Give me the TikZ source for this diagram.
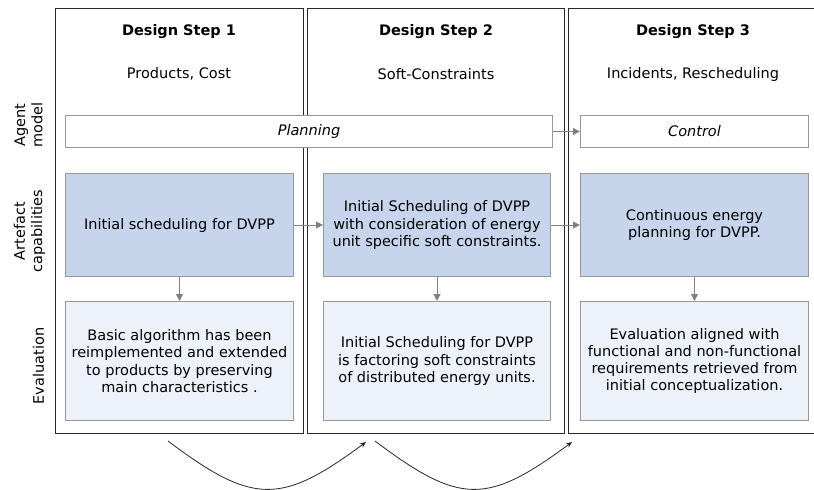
\documentclass[tikz,border=0pt]{standalone}
\usepackage{fontspec}
\setmainfont{DejaVu Sans}
\usetikzlibrary{arrows.meta}
\definecolor{capfill}{RGB}{198,212,236}
\definecolor{evalfill}{RGB}{237,242,250}
\definecolor{boxline}{RGB}{150,150,150}
\definecolor{arrowgray}{RGB}{128,128,128}
\definecolor{colline}{RGB}{40,40,40}
\begin{document}
\begin{tikzpicture}[x=1pt,y=1pt,
  every node/.style={font=\fontsize{14.5pt}{17.3pt}\selectfont},
  column/.style={draw=colline, line width=1.1pt, rectangle, inner sep=0pt, anchor=north west},
  agentbox/.style={draw=boxline, fill=white, line width=1pt, rectangle, inner sep=0pt, anchor=north west, font=\fontsize{14.5pt}{17.3pt}\selectfont\itshape},
  capbox/.style={draw=boxline, fill=capfill, line width=1pt, rectangle, inner sep=0pt, anchor=north west, align=center, minimum width=228pt, minimum height=103pt},
  evalbox/.style={draw=boxline, fill=evalfill, line width=1pt, rectangle, inner sep=0pt, anchor=north west, align=center, minimum width=228pt, minimum height=119pt},
  titletext/.style={font=\fontsize{14.5pt}{17.3pt}\selectfont\bfseries, inner sep=0pt},
  subtext/.style={inner sep=0pt},
  sidelabel/.style={rotate=90, align=center, inner sep=0pt},
  garrow/.style={draw=arrowgray, line width=1pt, -{Triangle[length=7pt,width=7pt]}},
  curvearrow/.style={draw=black!85, line width=0.8pt, -{Stealth[length=6pt,width=5pt]}}
]
\useasboundingbox (0,0) rectangle (814,-490);

% columns
\node[column, minimum width=248pt, minimum height=425pt] (col1) at (55,-8) {};
\node[column, minimum width=257pt, minimum height=425pt] (col2) at (307,-8) {};
\node[column, minimum width=252pt, minimum height=425pt] (col3) at (568,-8) {};

% titles
\node[titletext] (t1) at (179,-32) {Design Step 1};
\node[titletext] (t2) at (436,-32) {Design Step 2};
\node[titletext] (t3) at (693,-32) {Design Step 3};
\node[subtext] (s1) at (179,-74) {Products, Cost};
\node[subtext] (s2) at (436,-74) {Soft-Constraints};
\node[subtext] (s3) at (693,-74) {Incidents, Rescheduling};

% side labels
\node[sidelabel] (lagent) at (28.5,-125) {Agent\\model};
\node[sidelabel] (lart) at (29.5,-231) {Artefact\\capabilities};
\node[sidelabel] (leval) at (38.5,-366) {Evaluation};

% agent model row
\node[agentbox, minimum width=487pt, minimum height=32pt] (plan) at (65,-115) {Planning};
\node[agentbox, minimum width=228pt, minimum height=32pt] (ctrl) at (580,-115) {Control};

% artefact capabilities row
\node[capbox] (cap1) at (65,-173) {Initial scheduling for DVPP};
\node[capbox, minimum width=227pt] (cap2) at (323,-173) {Initial Scheduling of DVPP\\with consideration of energy\\unit specific soft constraints.};
\node[capbox] (cap3) at (580,-173) {Continuous energy\\planning for DVPP.};

% evaluation row
\node[evalbox] (eval1) at (65,-301) {Basic algorithm has been\\reimplemented and extended\\to products by preserving\\main characteristics .};
\node[evalbox, minimum width=227pt] (eval2) at (323,-301) {Initial Scheduling for DVPP\\is factoring soft constraints\\of distributed energy units.};
\node[evalbox] (eval3) at (580,-301) {Evaluation aligned with\\functional and non-functional\\requirements retrieved from\\initial conceptualization.};

% arrows
\draw[garrow] (plan.east) -- (plan.east -| ctrl.west);
\draw[garrow] (cap1.east) -- (cap2.west);
\draw[garrow] (cap2.east) -- (cap3.west);
\draw[garrow] (cap1.south) -- (eval1.north);
\draw[garrow] (cap2.south) -- (eval2.north);
\draw[garrow] (cap3.south) -- (eval3.north);

% bottom curved arrows
\coordinate (c1s) at (168,-441);
\coordinate (c1e) at (366,-442);
\coordinate (c2s) at (375,-441);
\coordinate (c2e) at (572,-442);
\draw[curvearrow] (c1s) .. controls (253,-505) and (281,-505) .. (c1e);
\draw[curvearrow] (c2s) .. controls (460,-505) and (487,-505) .. (c2e);
\end{tikzpicture}
\end{document}
